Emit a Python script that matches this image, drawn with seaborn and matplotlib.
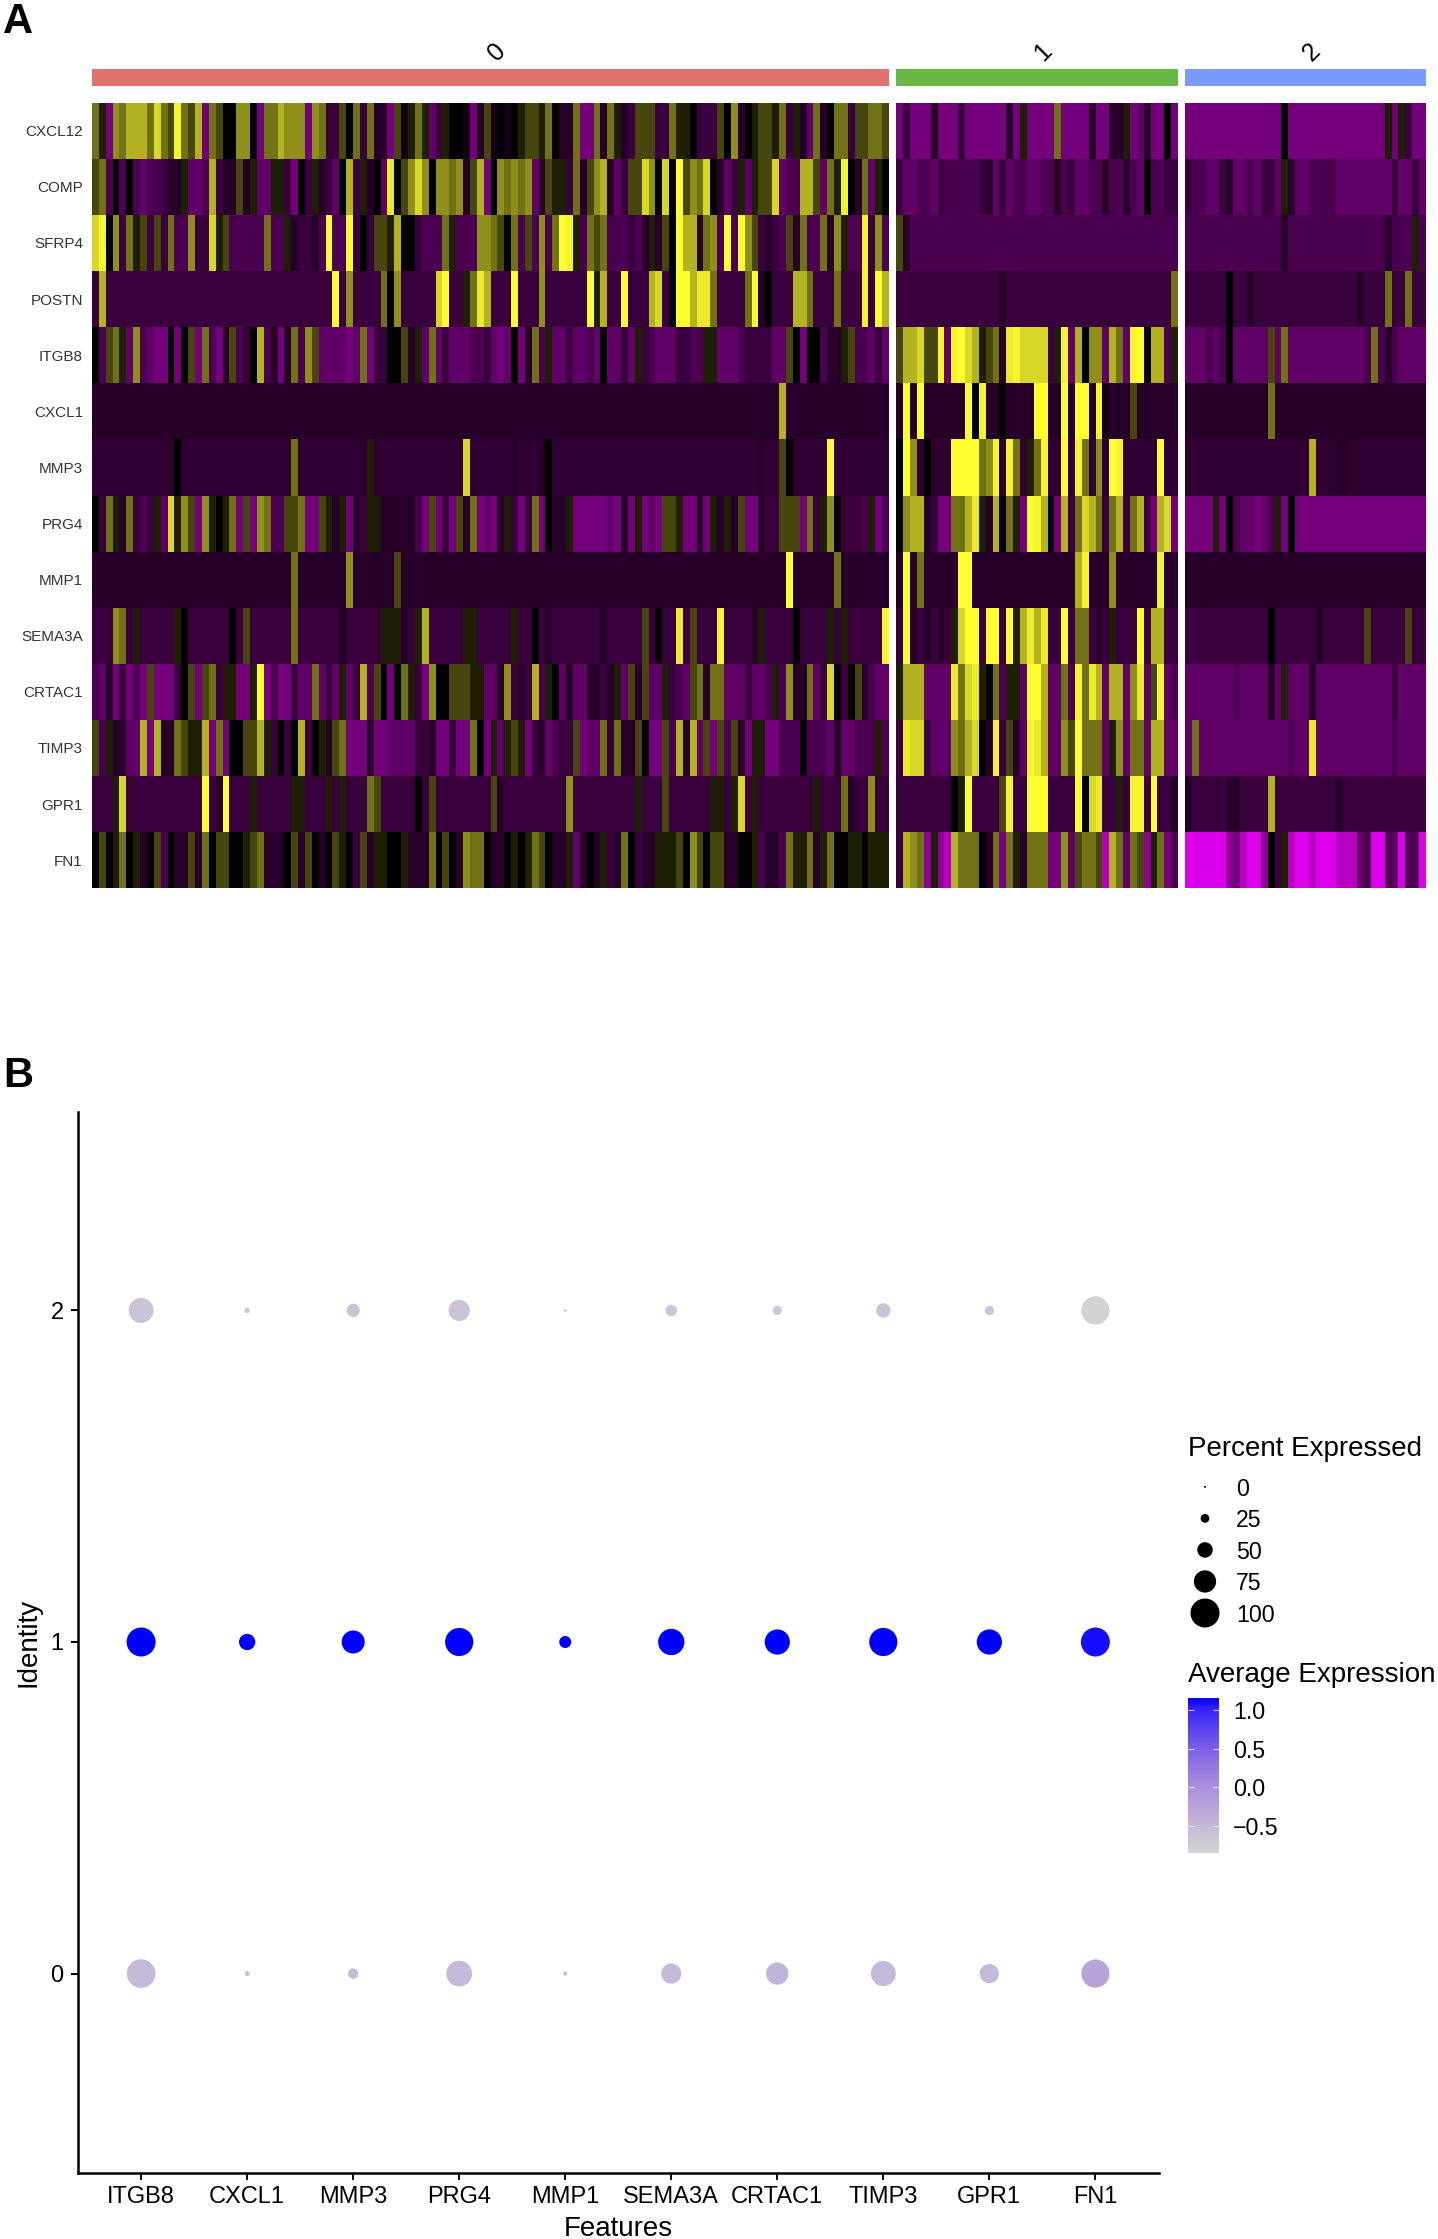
import numpy as np
import pandas as pd
import matplotlib
matplotlib.use("Agg")
import matplotlib.pyplot as plt
from matplotlib.colors import LinearSegmentedColormap, ListedColormap, Normalize
from matplotlib.cm import ScalarMappable
import seaborn as sns

GENES = ["CXCL12", "COMP", "SFRP4", "POSTN", "ITGB8", "CXCL1", "MMP3", "PRG4",
         "MMP1", "SEMA3A", "CRTAC1", "TIMP3", "GPR1", "FN1"]

# scaled expression, one character per cell
LEVELS = {"a": -2.3, "b": -1.9, "c": -1.5, "d": -1.2, "e": -1.0, "f": -0.8, "g": -0.6,
          "j": -0.5, "h": -0.4, "i": -0.2, "0": 0.0, "1": 0.3, "2": 0.7, "3": 1.1,
          "4": 1.4, "5": 1.75, "6": 2.1, "7": 2.3, "8": 2.4, "9": 2.5}

CLUSTER_0 = [
 "31d4355536 328325d320 0440d33544 4d43gg203g 3hhd2i131e g100idh2i0 i0122130hh 3dd3h31hg2 22gg3110gg g204h01221 3g1he3h033 g22332",
 "23f0f0feff ghh1eef5gh h2h1ee11gd 0g1hge05g1 h0e7024640 4434h25d04 3434eh211g 3h245heg22 6406092436 0heg1e1226 eff552e318 0h3e10",
 "6804g312g2 g3ff4gg612 fffff3ff1h gghf9ff9g0 g221500gff f31fff4432 03f2f4f398 1f323fffgf h1h20955h3 4f9f942ghg f2h3ff3h41 ff8g4f",
 "g5gggggggg gggggggggg gggggggggg ggggg9g4gg gg304ggggg 69gg1375gg g9ggg4gggg gg915gg9gg g56g099577 3gggg39h0g gg553ggg3g gg8g95",
 "0f231e4fed d0d02d3fdh 2fg05fhdh3 f42eeeede3 dgg002h1e3 egeeeffged e0dh3f1eeg eefe0eege1 gfeeeggff1 1eeefgggge e20d00fhh1 2ffege",
 "hhhhhhhhhh hhhhhhhhhh hhhhhhhhhh hhhhhhhhhh hhhhhhhhhh hhhhhhhhhh hhhhhhhhhh hhhhhhhhhh hhhhhhhhhh hhhhhhhhhh 5hhhhhhhhh hhhhhh",
 "jjjjjjjjjj jj0jjjjjjj jjjjjjjjj3 jjjjjjjjjj 1jjjjjjjjj jjjj6jjjjj jhjjjh0jjj jjjjjjjjjj jjjjjjjjjj jjjjjjjhjj 20jjjjj9jj jjjjjj",
 "0g31h3gfg1 e6142d4101 3d2d43ff22 3dd21h1dhg 11hhhhhfd2 dgd2h3dedh 1gdg3d0hh1 ddddded hd1 ded221ddhd 1h1h2ddhgg 222d3g140g ggf1df",
 "hhhhhhhhhh hhhhhhhhhh hhhhhhhhh3 hhhhhhh4hh hhhh2hhhhh hhhhhhhhhh hhhhhhhhhh hhhhhhhhhh hhhhhhhhhh hhhhhhhhhh h9hhhhhh3h hhhhhh",
 "ggg43g1ggg gg10gggggg 0g2gggggg3 gggggghggg gg111hg15g gggg11gggg g1gg0ghggg gggghggggg 2g0gg7g2gg g8ggggh1gg gg0gggg1g1 ggggg8",
 "fehdgdfd2d ddg02d23g1 1dd19dfddg ee3ege1eg5 f20d031gd4 0022211eeh 4ghg5f10eh eehhgh1e2h 2ee1gfe23h 33eeegeef1 f4hh3eg60g 02hfee",
 "2f1hhee5d5 hh32115d3d 002251g0g0 5g01h23ddd hddeeeeggh ddgdd30d1e 121dghefgg 2dee3g3hh2 0dd2f5h5e2 d2f2hd11dd fff0fffehe efff1f",
 "ggg16ggggg gggggg9gh9 ggg1ggggg1 1ggg1g1ggg 32ggggg0g2 gggggggg2h ggggggggg4 ggggggggg1 ggg2gggggg 11g16g1ggg ggggg1ggg3 hgg4gg",
 "0201301h02 f0hh2h3022 00123hhh02 h20h0210g2 h11001hhh3 020h4330hh 0101320hh1 eh0h1gh30g hh11120420 22hh001fhh f3113h1300 110111",
]
CLUSTER_1 = [
 "dgdddhdddg ddddddhd1d ddd3ddddhd dhh1dehdd0d",
 "geeffegfff ffghegeffe effhfgeeff hffhfe0ffgg",
 "2hffffffff ffffffffff ffffffffff fffffffffff",
 "gggggggggg ggggghgggg gggggggggg gggggggggg3",
 "2556228e89 65123h7866 66g18e5044 e53e89055f1",
 "h9h9hhhhhh 908hh0hhhh 99hh9h99h8 ihhh2hhhhhh",
 "094j0jjj99 99348h83j1 38jj9j83j4 j98jjjjj9jj",
 "0455hgdd33 571h5031d9 850d5g3653 g35g35gd56d",
 "h9h3hhhhh9 9hhhhhhhhh hhhhhh58hh h4hhhhhh8hh",
 "g9hghghg16 99g99g9157 57gg9g33gh g1ggg9g55gg",
 "1555eeee73 67103f11e9 95ee3f8375 e55e47e28ef",
 "g766geee43 560h8g2he8 75ee429333 e14e33e55ee",
 "gggggggg01 9gggg28gg9 99gggg9067 gg1g88g9ggh",
 "g543c1cb53 330h3d31h3 33dd4e2332 b53e32c13df",
]
CLUSTER_2 = [
 "dddddddddd dddd0ddddd ddddddddd1 d1gdd",
 "gffeegheef egge1heeff ffeeeeeeee geege",
 "ffffffffff ffffhfffff fffffffffh fff1f",
 "gggggg0ggh gggggggggg ggggghggg3 gg3gg",
 "eeefef0eee ee2e3eeeee eeeeeef3fh feeee",
 "hhhhhhhhhh hh3hhhhhhh hhhhhhhhhh hhhhh",
 "jjjjjjjjjj jjjjjjjj5j jjhhjjjjjj jjjjj",
 "dddd1d0fee def1d0dddd dddddddddd ddddd",
 "hhhhhhhhhh hhhhhhhhhh hhhhhhhhhh hhhhh",
 "gggggggggg gg0ggggggh gggggg2ggg gg2gg",
 "eeeeeeefee eehe1eeehe eeeeeeeeee geeee",
 "e3eeeeeeee eeeeefee7e eeeeeeeeee feeee",
 "hggggghhgg gg5ggggggg gghggggggg ggggg",
 "aaaaaacdba ac0g1baaba aabbbefaaf eaffa",
]
CLUSTER_NAMES = ["0", "1", "2"]
CLUSTER_COLORS = ["#E0746C", "#69B845", "#7A9BFB"]

# dot plot
FEATURES = ["ITGB8", "CXCL1", "MMP3", "PRG4", "MMP1", "SEMA3A", "CRTAC1", "TIMP3", "GPR1", "FN1"]
PCT_0 = [99, 11, 31, 88, 8, 67, 75, 85, 64, 97]
PCT_1 = [100, 53, 78, 97, 37, 90, 86, 97, 86, 100]
PCT_2 = [85, 12, 42, 71, 3, 35, 27, 46, 27, 97]
AVG_0 = [-0.52, -0.55, -0.52, -0.50, -0.55, -0.50, -0.42, -0.50, -0.50, -0.25]
AVG_1 = [1.155, 1.155, 1.155, 1.155, 1.155, 1.155, 1.155, 1.155, 1.155, 1.10]
AVG_2 = [-0.63, -0.60, -0.63, -0.65, -0.60, -0.65, -0.73, -0.65, -0.65, -0.85]
LEGEND_PCT = [0, 25, 50, 75, 100]
AVG_TICKS = [-0.5, 0.0, 0.5, 1.0]

W, H = 1438, 2239
sns.set_theme(style="white")
plt.rcParams["font.family"] = ["Liberation Sans", "DejaVu Sans"]
fig = plt.figure(figsize=(W / 100, H / 100), dpi=100, facecolor="white")


def axes_px(x0, y0, x1, y1):
    return fig.add_axes([x0 / W, 1 - y1 / H, (x1 - x0) / W, (y1 - y0) / H])


def text_px(x, y, s, **kw):
    return fig.text(x / W, 1 - y / H, s, **kw)


def decode(rows):
    return pd.DataFrame([[LEVELS[c] for c in r.replace(" ", "")] for r in rows], index=GENES)


heat_cmap = LinearSegmentedColormap.from_list("pury", ["#F000FF", "#000000", "#FFFF30"])
HEAT_SPANS = [(92, 889), (896.4, 1178), (1185, 1426)]
HEAT_TOP, HEAT_BOTTOM = 102.7, 888.3
BAR_TOP, BAR_BOTTOM = 69, 85.7
LABEL_OFFSET = 6

for i, rows in enumerate([CLUSTER_0, CLUSTER_1, CLUSTER_2]):
    x0, x1 = HEAT_SPANS[i]
    ax = axes_px(x0, HEAT_TOP, x1, HEAT_BOTTOM)
    sns.heatmap(decode(rows), ax=ax, cmap=heat_cmap, vmin=-2.5, vmax=2.5, cbar=False,
                xticklabels=False, yticklabels=GENES if i == 0 else False)
    ax.tick_params(length=0, pad=6.5)
    if i == 0:
        ax.set_yticks(np.arange(len(GENES)) + 0.525)
        ax.set_yticklabels(GENES, rotation=0, fontsize=11, color="#333333")
    bar = axes_px(x0, BAR_TOP, x1, BAR_BOTTOM)
    sns.heatmap([[i]], ax=bar, cmap=ListedColormap([CLUSTER_COLORS[i]]), cbar=False,
                xticklabels=False, yticklabels=False)
    text_px((x0 + x1) / 2 + LABEL_OFFSET, 52, CLUSTER_NAMES[i], rotation=45, fontsize=18,
            ha="center", va="center", color="black")

text_px(3, 33, "A", fontsize=30, fontweight="bold", ha="left", va="baseline", color="black")
text_px(3, 1087, "B", fontsize=30, fontweight="bold", ha="left", va="baseline", color="black")

# panel B
avg_cmap = LinearSegmentedColormap.from_list(
    "greyblue",
    [(0.0, "#D3D3D3"), (0.175, "#C4B9D8"), (0.424, "#A98FDC"),
     (0.673, "#7D60E8"), (0.923, "#3A25F5"), (1.0, "#0000FF")])
AVG_MIN, AVG_MAX = -0.85, 1.155


def area(p):
    return ((2.0 + 0.27 * p) * 0.72) ** 2


dots = pd.concat([
    pd.DataFrame({"feature": FEATURES, "identity": k, "pct": p, "avg": a})
    for k, p, a in [(0, PCT_0, AVG_0), (1, PCT_1, AVG_1), (2, PCT_2, AVG_2)]
], ignore_index=True)

ax = axes_px(77.5, 1111.5, 1159, 2172.5)
sns.scatterplot(data=dots, x="feature", y="identity", hue="avg", size="pct",
                sizes={p: area(p) for p in dots["pct"].unique()},
                palette=avg_cmap, hue_norm=(AVG_MIN, AVG_MAX), linewidth=0, legend=False,
                alpha=1, ax=ax)
ax.set_xlim(-0.6, 9.6)
ax.set_ylim(-0.6, 2.6)
ax.set_yticks([0, 1, 2])
ax.set_yticklabels(["0", "1", "2"])
ax.tick_params(axis="both", labelsize=17, length=5, width=1.4, color="black",
               labelcolor="black", pad=5, left=True, bottom=True)
ax.set_xlabel("")
ax.set_ylabel("")
sns.despine(ax=ax)
for side in ("left", "bottom"):
    ax.spines[side].set_linewidth(1.8)
    ax.spines[side].set_color("black")
text_px(618, 2228.5, "Features", fontsize=20, ha="center", va="center", color="black")
text_px(29, 1642, "Identity", fontsize=20, ha="center", va="center", rotation=90, color="black")

# size legend
text_px(1188, 1449, "Percent Expressed", fontsize=20, ha="left", va="center", color="black")
leg = axes_px(1188, 1473, 1222, 1628)
leg_df = pd.DataFrame({"x": 0, "y": list(range(len(LEGEND_PCT)))[::-1], "pct": LEGEND_PCT})
sns.scatterplot(data=leg_df, x="x", y="y", size="pct",
                sizes={p: area(p) for p in LEGEND_PCT},
                color="black", linewidth=0, legend=False, ax=leg)
leg.set_xlim(-0.5, 0.5)
leg.set_ylim(-0.476, 4.44)
leg.set_xticks([])
leg.set_xlabel("")
leg.set_ylabel("")
leg.yaxis.tick_right()
leg.set_yticks(leg_df["y"])
leg.set_yticklabels([str(p) for p in LEGEND_PCT])
leg.tick_params(axis="y", length=0, labelsize=16.7, labelcolor="black", pad=10)
for s in leg.spines.values():
    s.set_visible(False)
leg.patch.set_alpha(0)

# colour legend
text_px(1188, 1674.5, "Average Expression", fontsize=20, ha="left", va="center", color="black")
cax = axes_px(1188, 1698, 1219, 1853)
cb = fig.colorbar(ScalarMappable(Normalize(AVG_MIN, AVG_MAX), avg_cmap), cax=cax, ticks=AVG_TICKS)
cb.outline.set_visible(False)
cb.ax.tick_params(length=0, labelsize=16.7, labelcolor="black", pad=10)
cb.ax.set_yticklabels(["\u22120.5", "0.0", "0.5", "1.0"])
cb.ax.hlines(AVG_TICKS, 0, 0.2, color="white", lw=0.8, alpha=0.7)
cb.ax.hlines(AVG_TICKS, 0.8, 1, color="white", lw=0.8, alpha=0.7)

fig.savefig("out.png", dpi=100, facecolor="white")
